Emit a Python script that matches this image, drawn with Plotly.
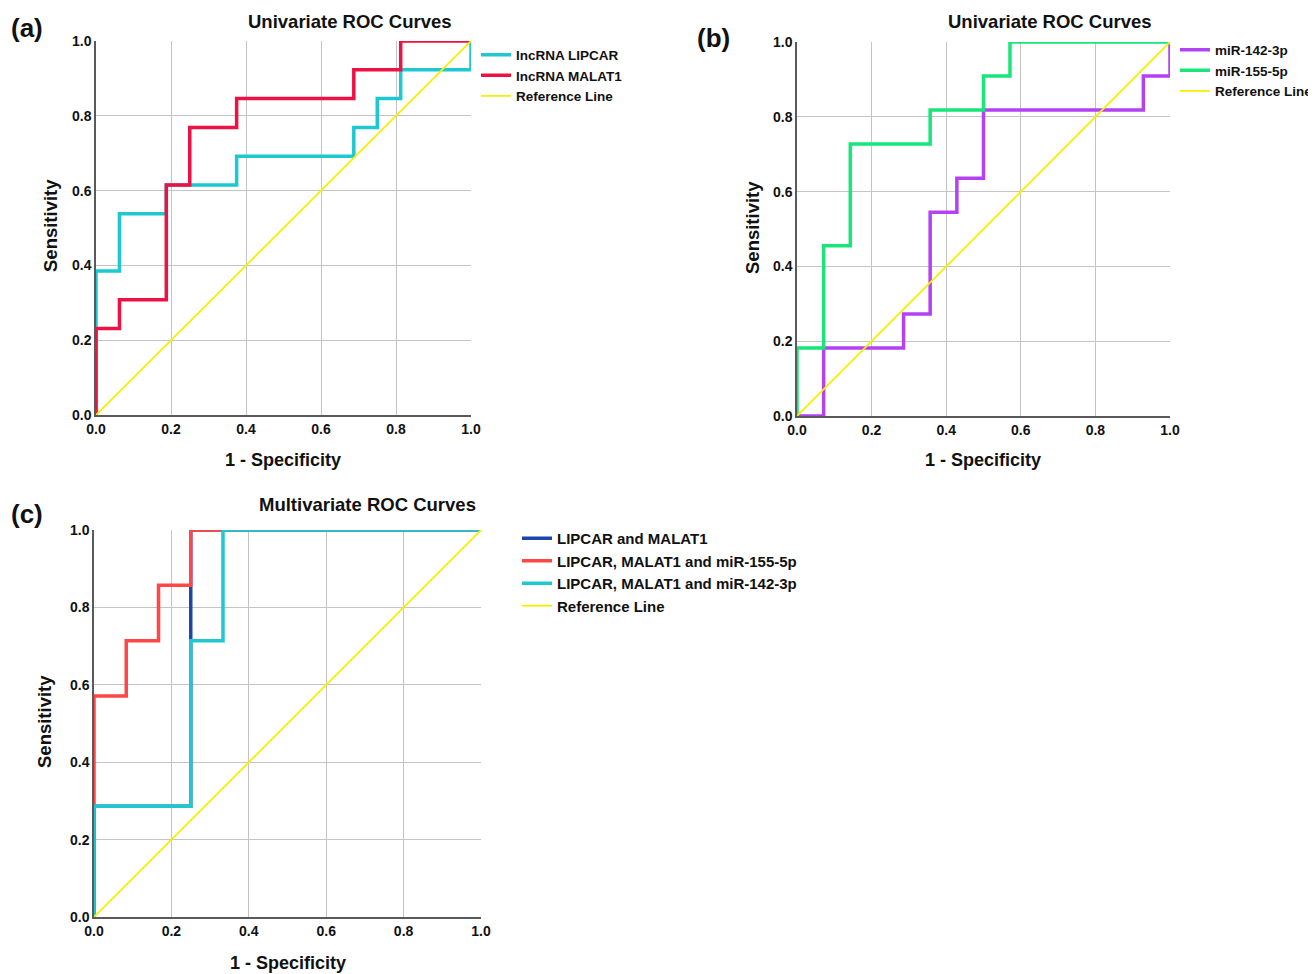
import plotly.graph_objects as go

# ---------------- data ----------------
# Panel (a)
a_lipcar_x = [0, 0, 0.0625, 0.0625, 0.1875, 0.1875, 0.375, 0.375, 0.6875, 0.6875, 0.75, 0.75, 0.8125, 0.8125, 1.0, 1.0]
a_lipcar_y = [0, 0.385, 0.385, 0.538, 0.538, 0.615, 0.615, 0.692, 0.692, 0.769, 0.769, 0.846, 0.846, 0.923, 0.923, 1.0]
a_malat1_x = [0, 0, 0.0625, 0.0625, 0.1875, 0.1875, 0.25, 0.25, 0.375, 0.375, 0.6875, 0.6875, 0.8125, 0.8125, 1.0]
a_malat1_y = [0, 0.231, 0.231, 0.308, 0.308, 0.615, 0.615, 0.769, 0.769, 0.846, 0.846, 0.923, 0.923, 1.0, 1.0]

# Panel (b)
b_m142_x = [0, 0.0714, 0.0714, 0.2857, 0.2857, 0.357, 0.357, 0.4286, 0.4286, 0.5, 0.5, 0.9286, 0.9286, 1.0, 1.0]
b_m142_y = [0, 0, 0.182, 0.182, 0.273, 0.273, 0.545, 0.545, 0.636, 0.636, 0.818, 0.818, 0.909, 0.909, 1.0]
b_m155_x = [0, 0, 0.0714, 0.0714, 0.1429, 0.1429, 0.357, 0.357, 0.5, 0.5, 0.571, 0.571, 1.0]
b_m155_y = [0, 0.182, 0.182, 0.455, 0.455, 0.727, 0.727, 0.818, 0.818, 0.909, 0.909, 1.0, 1.0]

# Panel (c)
c_lm_x = [0, 0, 0.25, 0.25, 1.0]
c_lm_y = [0, 0.286, 0.286, 1.0, 1.0]
c_lm155_x = [0, 0, 0.0833, 0.0833, 0.1667, 0.1667, 0.25, 0.25, 1.0]
c_lm155_y = [0, 0.571, 0.571, 0.714, 0.714, 0.857, 0.857, 1.0, 1.0]
c_lm142_x = [0, 0, 0.25, 0.25, 0.3333, 0.3333, 1.0]
c_lm142_y = [0, 0.286, 0.286, 0.714, 0.714, 1.0, 1.0]

ref_x = [0, 1]
ref_y = [0, 1]

tick_vals = [0.0, 0.2, 0.4, 0.6, 0.8, 1.0]
tick_text = ["0.0", "0.2", "0.4", "0.6", "0.8", "1.0"]

# ---------------- styling ----------------
FONT = "Liberation Sans Narrow, Liberation Sans, Arial, sans-serif"
CYAN = "#1DC8D0"
RED_A = "#EE1144"
YELLOW = "#F5F000"
GREEN = "#19E67A"
PURPLE = "#B342F5"
RED_C = "#FF4747"
BLUE_C = "#1F45A8"
TXT = "#111111"

fig = go.Figure()

def add(x, y, name, color, width, xa, ya, legend):
    fig.add_trace(go.Scatter(x=x, y=y, mode="lines", name=name,
                             line=dict(color=color, width=width),
                             xaxis=xa, yaxis=ya, legend=legend,
                             hoverinfo="skip"))

# (a)
add(a_lipcar_x, a_lipcar_y, "lncRNA LIPCAR", CYAN, 3.5, "x", "y", "legend")
add(a_malat1_x, a_malat1_y, "lncRNA MALAT1", RED_A, 3.5, "x", "y", "legend")
add(ref_x, ref_y, "Reference Line", YELLOW, 1.8, "x", "y", "legend")
# (b)
add(b_m142_x, b_m142_y, "miR-142-3p", PURPLE, 3.5, "x2", "y2", "legend2")
add(b_m155_x, b_m155_y, "miR-155-5p", GREEN, 3.5, "x2", "y2", "legend2")
add(ref_x, ref_y, "Reference Line", YELLOW, 1.8, "x2", "y2", "legend2")
# (c)
add(c_lm_x, c_lm_y, "LIPCAR and MALAT1", BLUE_C, 3.5, "x3", "y3", "legend3")
add(c_lm155_x, c_lm155_y, "LIPCAR, MALAT1 and miR-155-5p", RED_C, 3.5, "x3", "y3", "legend3")
add(c_lm142_x, c_lm142_y, "LIPCAR, MALAT1 and miR-142-3p", CYAN, 3.5, "x3", "y3", "legend3")
add(ref_x, ref_y, "Reference Line", YELLOW, 1.8, "x3", "y3", "legend3")

# page is shown with an 8px body margin, so the figure is drawn 8px smaller
OFF = 8
W, H = 1316 - OFF, 974 - OFF
def px(x): return (x - OFF) / W
def py(y): return 1 - (y - OFF) / H

domains = {
    "1": ((96, 471), (41, 415)),
    "2": ((797, 1170), (42, 416)),
    "3": ((94, 481), (530, 917)),
}

tickfont = dict(family=FONT, size=14, color=TXT, weight="bold")
axis_common = dict(range=[0, 1], tickvals=tick_vals, ticktext=tick_text,
                   showgrid=True, gridcolor="#C4C4C4", gridwidth=1.3,
                   zeroline=False, showline=True, linecolor="#5A5A5A", linewidth=1.5,
                   ticks="", tickfont=tickfont, fixedrange=True, automargin=False)

layout = {}
for k, ((x0, x1), (y0, y1)) in domains.items():
    sfx = "" if k == "1" else k
    layout["xaxis" + sfx] = dict(axis_common, domain=[px(x0), px(x1)], anchor="y" + sfx)
    layout["yaxis" + sfx] = dict(axis_common, domain=[py(y1), py(y0)], anchor="x" + sfx)

leg_font = dict(family=FONT, size=13.5, color=TXT, weight="bold")
leg_common = dict(bgcolor="rgba(0,0,0,0)", borderwidth=0, itemwidth=30,
                  tracegroupgap=0, xanchor="left", yanchor="top", traceorder="normal")

fig.update_layout(
    width=W, height=H,
    margin=dict(l=0, r=0, t=0, b=0, autoexpand=False),
    paper_bgcolor="white", plot_bgcolor="white",
    font=dict(family=FONT, color=TXT),
    legend=dict(leg_common, x=px(476), y=py(39.5), font=leg_font),
    legend2=dict(leg_common, x=px(1175), y=py(34.5), font=leg_font),
    legend3=dict(leg_common, x=px(517), y=py(522), font=dict(leg_font, size=15)),
    **layout,
)

annos = [
    ("Univariate ROC Curves", 350, 22, 18.5, 0),
    ("Univariate ROC Curves", 1050, 22, 18.5, 0),
    ("Multivariate ROC Curves", 367, 504, 18.5, 0),
    ("(a)", 27, 28, 26, 0),
    ("(b)", 713, 38, 26, 0),
    ("(c)", 27, 514, 26, 0),
    ("1 - Specificity", 283, 460, 18, 0),
    ("1 - Specificity", 983, 460, 18, 0),
    ("1 - Specificity", 288, 963, 18, 0),
    ("Sensitivity", 50, 226, 18.5, -90),
    ("Sensitivity", 752, 228, 18.5, -90),
    ("Sensitivity", 44, 722, 18.5, -90),
]
for text, x, y, size, ang in annos:
    fig.add_annotation(text=text, x=px(x), y=py(y), xref="paper", yref="paper",
                       showarrow=False, xanchor="center", yanchor="middle", textangle=ang,
                       font=dict(family=FONT, size=size, color=TXT, weight="bold"))

fig.write_html("out.html")
